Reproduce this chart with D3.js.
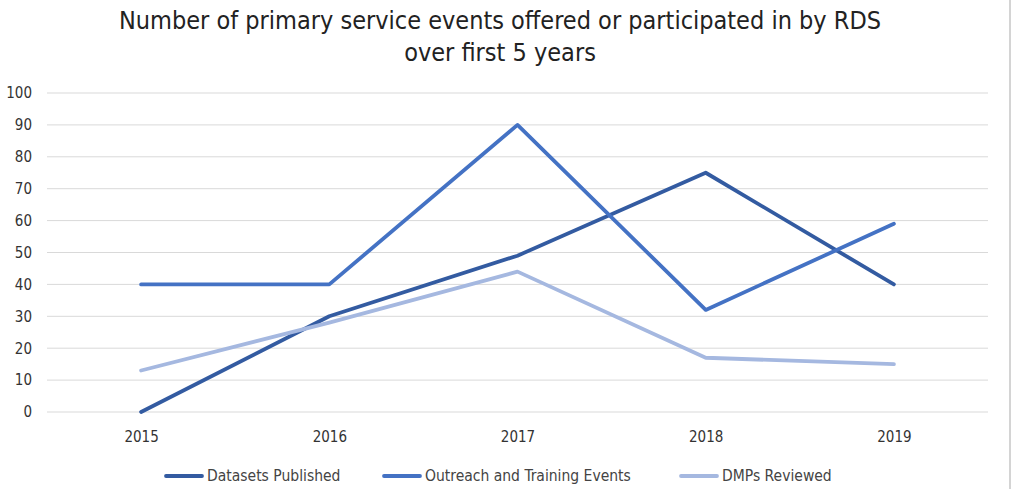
<!DOCTYPE html>
<html>
<head>
<meta charset="utf-8">
<script src="https://cdn.jsdelivr.net/npm/d3@7"></script>
<style>
  body { margin: 0; background: #fff; }
  text { font-family: "DejaVu Sans Condensed", "DejaVu Sans", sans-serif; }
</style>
</head>
<body>
<svg width="1012" height="489"></svg>
<script>
let years = ['2015', '2016', '2017', '2018', '2019']
let seriesNames = ['Datasets Published', 'Outreach and Training Events', 'DMPs Reviewed']
let datasetsPublished = [0, 30, 49, 75, 40]
let outreachEvents = [40, 40, 90, 32, 59]
let dmpsReviewed = [13, 28, 44, 17, 15]
let yTicks = [0, 10, 20, 30, 40, 50, 60, 70, 80, 90, 100]
let colors = ['#335BA1', '#4472C4', '#A5B8E0']

let series = [datasetsPublished, outreachEvents, dmpsReviewed].map((v, i) => ({
    name: seriesNames[i],
    color: colors[i],
    values: v.map((d, j) => ({ year: years[j], value: d }))
}))

let svg = d3.select('svg')
let plotLeft = 47, plotRight = 988, plotTop = 93, plotBottom = 412

let x = d3.scalePoint().domain(years).range([plotLeft, plotRight]).padding(0.5)
let y = d3.scaleLinear().domain([0, 100]).range([plotBottom, plotTop])

// frame edge on the right
svg.append('line')
    .attr('x1', 1010).attr('x2', 1010).attr('y1', 0).attr('y2', 489)
    .attr('stroke', '#d4d4d4')
    .attr('stroke-width', 2)

// title
let title = svg.append('text')
    .attr('x', 500)
    .attr('text-anchor', 'middle')
    .attr('font-size', 25)
    .attr('fill', '#222')
title.append('tspan').attr('x', 500).attr('y', 29).text('Number of primary service events offered or participated in by RDS')
title.append('tspan').attr('x', 500).attr('y', 61).text('over first 5 years')

// gridlines
svg.append('g')
    .selectAll('line')
    .data(yTicks)
    .enter()
    .append('line')
    .attr('x1', plotLeft).attr('x2', plotRight)
    .attr('y1', d => y(d)).attr('y2', d => y(d))
    .attr('stroke', '#d9d9d9')
    .attr('stroke-width', 1)

// y axis
let yAxis = svg.append('g')
    .attr('transform', 'translate(' + (plotLeft - 15) + ',0)')
    .call(d3.axisLeft(y).tickValues(yTicks).tickSize(0).tickPadding(0))
yAxis.select('.domain').remove()
yAxis.selectAll('text').attr('font-size', 15).attr('fill', '#333')
    .style('font-family', '"DejaVu Sans Condensed", "DejaVu Sans", sans-serif')

// x axis
let xAxis = svg.append('g')
    .attr('transform', 'translate(0,' + (plotBottom + 19) + ')')
    .call(d3.axisBottom(x).tickSize(0).tickPadding(0))
xAxis.select('.domain').remove()
xAxis.selectAll('text').attr('font-size', 15).attr('fill', '#333')
    .style('font-family', '"DejaVu Sans Condensed", "DejaVu Sans", sans-serif')

// lines
let line = d3.line().x(d => x(d.year)).y(d => y(d.value))

svg.append('g')
    .selectAll('path')
    .data(series)
    .enter()
    .append('path')
    .attr('d', d => line(d.values))
    .attr('fill', 'none')
    .attr('stroke', d => d.color)
    .attr('stroke-width', 3.8)
    .attr('stroke-linejoin', 'round')
    .attr('stroke-linecap', 'round')

// legend
let legendX = [166, 384, 681]
let legend = svg.append('g').attr('transform', 'translate(0,476)')
let item = legend.selectAll('g')
    .data(series)
    .enter()
    .append('g')
    .attr('transform', (d, i) => 'translate(' + legendX[i] + ',0)')
item.append('line')
    .attr('x1', 0).attr('x2', 36).attr('y1', 0).attr('y2', 0)
    .attr('stroke', d => d.color)
    .attr('stroke-width', 3.8)
    .attr('stroke-linecap', 'round')
item.append('text')
    .text(d => d.name)
    .attr('x', 41)
    .attr('dy', 5)
    .attr('font-size', 15.5)
    .attr('fill', '#444')
</script>
</body>
</html>
